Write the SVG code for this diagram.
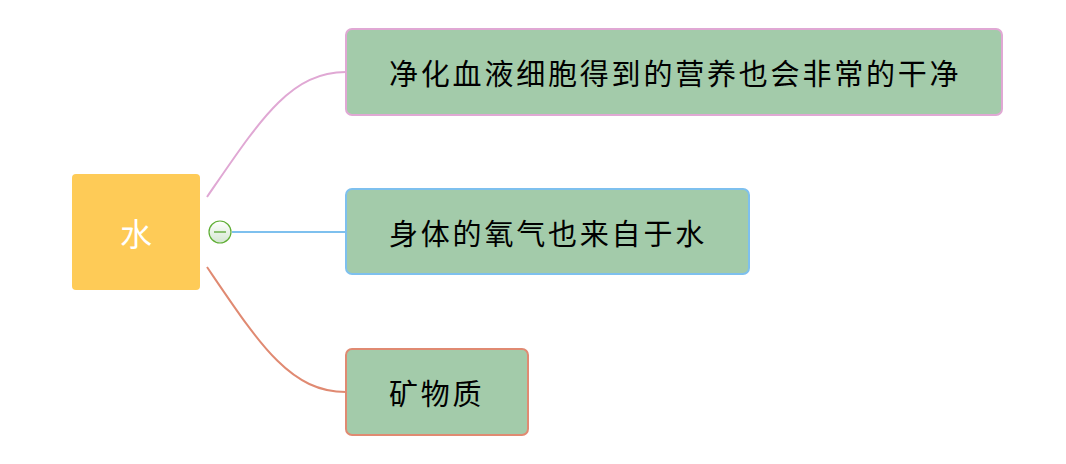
<svg xmlns="http://www.w3.org/2000/svg" width="1066" height="464" viewBox="0 0 1066 464">
<defs>
<linearGradient id="cg" x1="0" y1="0" x2="0" y2="1">
<stop offset="0" stop-color="#ffffff"/>
<stop offset="1" stop-color="#d3e6d0"/>
</linearGradient>
<style>
.sub{fill:#a3cbaa;stroke-width:2}
.t{font-family:"Noto Sans CJK SC","Noto Sans",sans-serif;font-size:29px;fill:#000;letter-spacing:2.8px}
.c{fill:none;stroke-width:2}
</style>
</defs>
<rect width="1066" height="464" fill="#ffffff"/>
<g id="connectors">
<path class="c" d="M207,197 C260,120 290,72 346,72" stroke="#e0a8d4"/>
<path class="c" d="M232,232 L346,232" stroke="#7ec0ee"/>
<path class="c" d="M207,267 C260,345 290,392 346,392" stroke="#e08a72"/>
</g>
<g id="root">
<rect x="72" y="174" width="128" height="116" rx="4" fill="#fecb57"/>
<text x="136" y="232" font-family="Noto Sans CJK SC,sans-serif" font-size="32" fill="#ffffff" text-anchor="middle" dominant-baseline="central">水</text>
</g>
<g id="collapse">
<circle cx="220" cy="232" r="11" fill="url(#cg)" stroke="#5fae34" stroke-width="1.2"/>
<line x1="214" y1="232" x2="226" y2="232" stroke="#4a9e20" stroke-width="1.2"/>
</g>
<g id="node1">
<rect class="sub" x="346" y="29" width="656" height="86" rx="6" stroke="#e0a8d4"/>
<text class="t" x="389" y="72" dominant-baseline="central">净化血液细胞得到的营养也会非常的干净</text>
</g>
<g id="node2">
<rect class="sub" x="346" y="189" width="403" height="85" rx="6" stroke="#7ec0ee"/>
<text class="t" x="389" y="232" dominant-baseline="central">身体的氧气也来自于水</text>
</g>
<g id="node3">
<rect class="sub" x="346" y="349" width="182" height="86" rx="6" stroke="#e08a72"/>
<text class="t" x="389" y="392" dominant-baseline="central">矿物质</text>
</g>
</svg>
